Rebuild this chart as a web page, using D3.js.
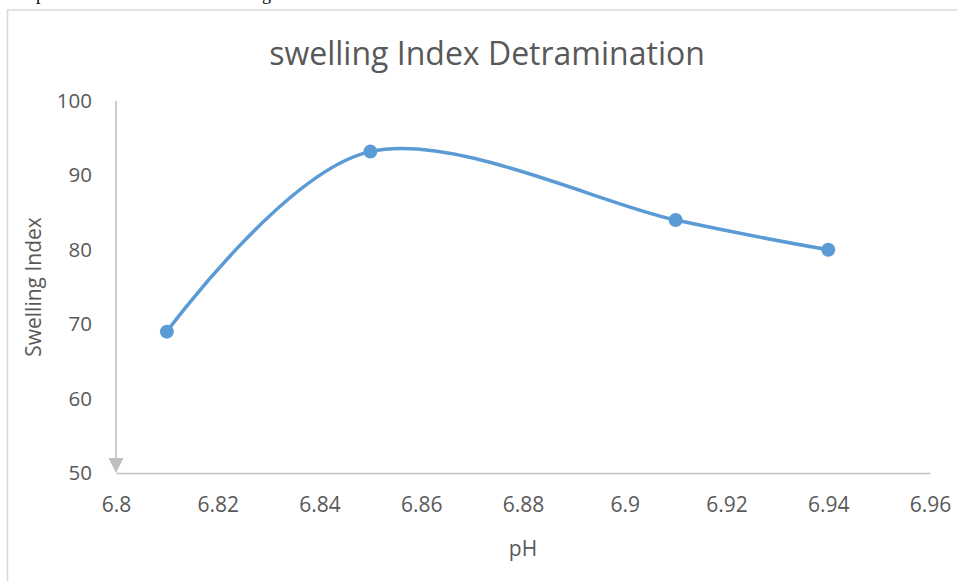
<!DOCTYPE html>
<html>
<head>
<meta charset="utf-8">
<script src="https://cdn.jsdelivr.net/npm/d3@7"></script>
<style>
  body { margin: 0; background: #fff; }
  svg text { font-family: "Open Sans", sans-serif; fill: #595959; }
</style>
</head>
<body>
<svg id="chart" width="957" height="581"></svg>
<script>
const phValues = [6.81, 6.85, 6.91, 6.94]
const swellingIndex = [69, 93.2, 84, 80]
const xTicks = [6.8, 6.82, 6.84, 6.86, 6.88, 6.9, 6.92, 6.94, 6.96]
const yTicks = [50, 60, 70, 80, 90, 100]

const svg = d3.select("#chart")
const margin = { top: 101, right: 27, bottom: 108, left: 116 },
  width = 957 - margin.left - margin.right,
  height = 581 - margin.top - margin.bottom

// cut-off line of the document above the chart
svg.append("text").attr("x", 36).attr("y", 0).style("font-family", "'Liberation Serif', serif")
  .style("fill", "#000").style("font-size", "18px").text("p")
svg.append("text").attr("x", 262).attr("y", 0).style("font-family", "'Liberation Serif', serif")
  .style("fill", "#000").style("font-size", "18px").text("g")

// chart frame
svg.append("path").attr("d", "M7.5,581 L7.5,10 L957,10")
  .attr("fill", "none").attr("stroke", "#d9d9d9").attr("stroke-width", 1.6)

const x = d3.scaleLinear().domain([6.8, 6.96]).range([0, width])
const y = d3.scaleLinear().domain([50, 100]).range([height, 0])

const g = svg.append("g").attr("transform", `translate(${margin.left},${margin.top})`)

// title
svg.append("text").attr("x", 487).attr("y", 65).attr("text-anchor", "middle")
  .style("font-size", "32px").text("swelling Index Detramination")

// x axis
const xAxis = g.append("g").attr("transform", `translate(0,${height})`)
  .call(d3.axisBottom(x).tickValues(xTicks).tickSize(0).tickPadding(0).tickFormat(d => d3.format("")(d)))
xAxis.select(".domain").attr("stroke", "#bfbfbf").attr("stroke-width", 1.6)
xAxis.selectAll(".tick text").attr("dy", null).attr("y", 39).style("font-size", "21px")

// y axis (line drawn separately with arrow head at the bottom)
const yAxis = g.append("g")
  .call(d3.axisLeft(y).tickValues(yTicks).tickSize(0).tickPadding(24))
yAxis.select(".domain").remove()
yAxis.selectAll(".tick text").style("font-size", "20.5px")

g.append("line").attr("x1", 0).attr("x2", 0).attr("y1", 0).attr("y2", height - 12)
  .attr("stroke", "#bfbfbf").attr("stroke-width", 1.6)
g.append("path")
  .attr("d", `M-7.5,${height - 15} L7.5,${height - 15} L0,${height} Z`)
  .attr("fill", "#bfbfbf")

// axis titles
svg.append("text").attr("x", margin.left + width / 2).attr("y", 556).attr("text-anchor", "middle")
  .style("font-size", "21px").text("pH")
svg.append("text").attr("transform", `translate(41,${margin.top + height / 2}) rotate(-90)`)
  .attr("text-anchor", "middle").style("font-size", "21px").text("Swelling Index")

// smoothed series line
const pts = phValues.map((d, i) => ({ ph: d, v: swellingIndex[i] }))
const line = d3.line().x(d => x(d.ph)).y(d => y(d.v)).curve(d3.curveCardinal)
g.append("path").datum(pts).attr("d", line)
  .attr("fill", "none").attr("stroke", "#5b9bd5").attr("stroke-width", 3.5).attr("stroke-linecap", "round")

g.selectAll(".dot").data(pts).join("circle").attr("class", "dot")
  .attr("cx", d => x(d.ph)).attr("cy", d => y(d.v)).attr("r", 7)
  .attr("fill", "#5b9bd5")
</script>
</body>
</html>
